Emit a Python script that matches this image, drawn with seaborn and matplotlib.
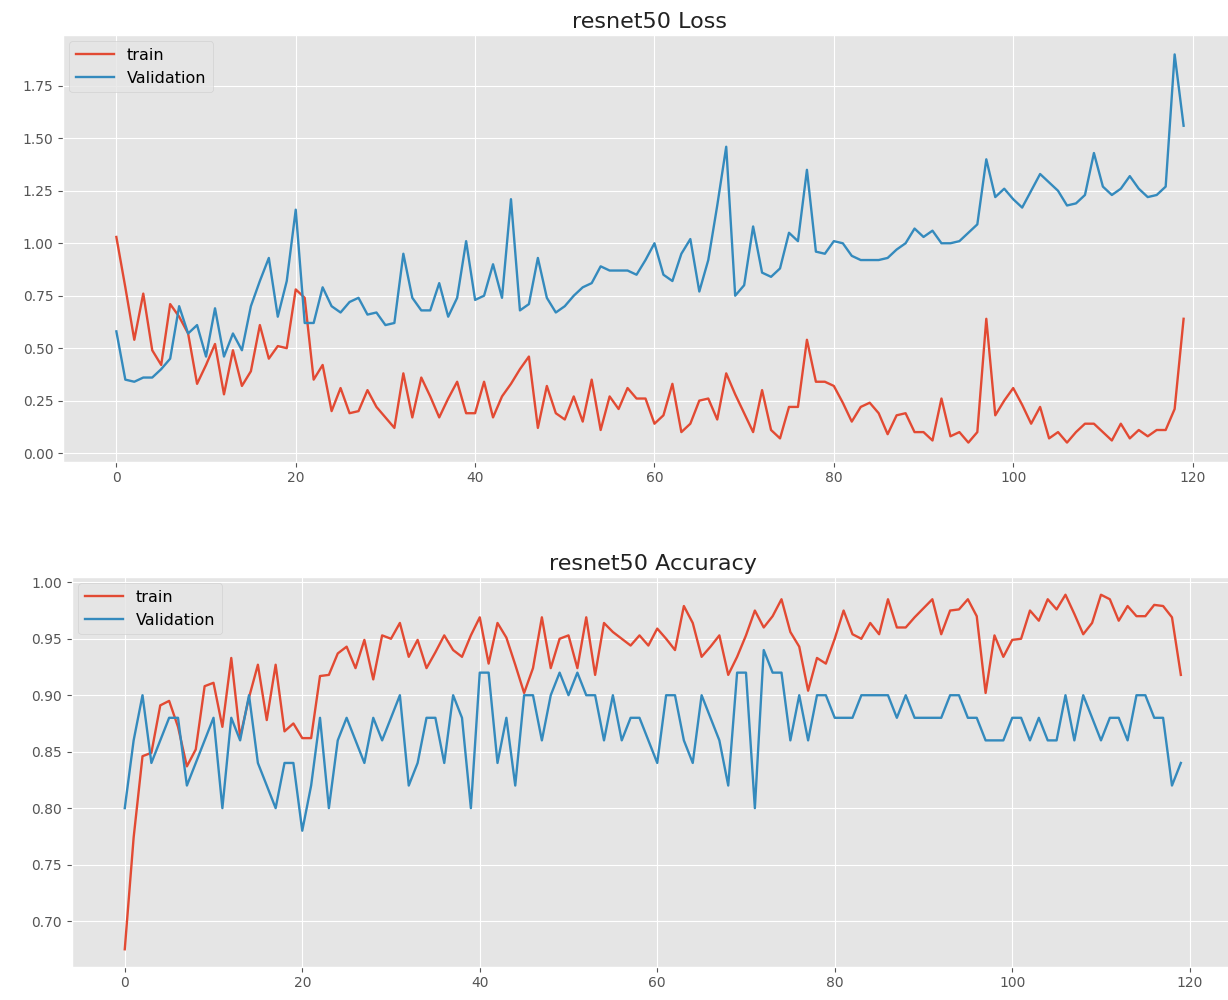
import numpy as np
import pandas as pd
import matplotlib
matplotlib.use("Agg")
import matplotlib.pyplot as plt
import seaborn as sns

epochs = list(range(120))

train_loss = [1.03, 0.79, 0.54, 0.76, 0.49, 0.42, 0.71, 0.65, 0.57, 0.33,
              0.42, 0.52, 0.28, 0.49, 0.32, 0.39, 0.61, 0.45, 0.51, 0.50,
              0.78, 0.74, 0.35, 0.42, 0.20, 0.31, 0.19, 0.20, 0.30, 0.22,
              0.17, 0.12, 0.38, 0.17, 0.36, 0.27, 0.17, 0.26, 0.34, 0.19,
              0.19, 0.34, 0.17, 0.27, 0.33, 0.40, 0.46, 0.12, 0.32, 0.19,
              0.16, 0.27, 0.15, 0.35, 0.11, 0.27, 0.21, 0.31, 0.26, 0.26,
              0.14, 0.18, 0.33, 0.10, 0.14, 0.25, 0.26, 0.16, 0.38, 0.28,
              0.19, 0.10, 0.30, 0.11, 0.07, 0.22, 0.22, 0.54, 0.34, 0.34,
              0.32, 0.24, 0.15, 0.22, 0.24, 0.19, 0.09, 0.18, 0.19, 0.10,
              0.10, 0.06, 0.26, 0.08, 0.10, 0.05, 0.10, 0.64, 0.18, 0.25,
              0.31, 0.23, 0.14, 0.22, 0.07, 0.10, 0.05, 0.10, 0.14, 0.14,
              0.10, 0.06, 0.14, 0.07, 0.11, 0.08, 0.11, 0.11, 0.21, 0.64]

val_loss = [0.58, 0.35, 0.34, 0.36, 0.36, 0.40, 0.45, 0.70, 0.57, 0.61,
            0.46, 0.69, 0.46, 0.57, 0.49, 0.70, 0.82, 0.93, 0.65, 0.82,
            1.16, 0.62, 0.62, 0.79, 0.70, 0.67, 0.72, 0.74, 0.66, 0.67,
            0.61, 0.62, 0.95, 0.74, 0.68, 0.68, 0.81, 0.65, 0.74, 1.01,
            0.73, 0.75, 0.90, 0.74, 1.21, 0.68, 0.71, 0.93, 0.74, 0.67,
            0.70, 0.75, 0.79, 0.81, 0.89, 0.87, 0.87, 0.87, 0.85, 0.92,
            1.00, 0.85, 0.82, 0.95, 1.02, 0.77, 0.92, 1.18, 1.46, 0.75,
            0.80, 1.08, 0.86, 0.84, 0.88, 1.05, 1.01, 1.35, 0.96, 0.95,
            1.01, 1.00, 0.94, 0.92, 0.92, 0.92, 0.93, 0.97, 1.00, 1.07,
            1.03, 1.06, 1.00, 1.00, 1.01, 1.05, 1.09, 1.40, 1.22, 1.26,
            1.21, 1.17, 1.25, 1.33, 1.29, 1.25, 1.18, 1.19, 1.23, 1.43,
            1.27, 1.23, 1.26, 1.32, 1.26, 1.22, 1.23, 1.27, 1.90, 1.56]

train_acc = [0.675, 0.774, 0.846, 0.849, 0.891, 0.895, 0.872, 0.837, 0.852, 0.908,
             0.911, 0.872, 0.933, 0.863, 0.898, 0.927, 0.878, 0.927, 0.868, 0.875,
             0.862, 0.862, 0.917, 0.918, 0.937, 0.943, 0.924, 0.949, 0.914, 0.953,
             0.950, 0.964, 0.934, 0.949, 0.924, 0.938, 0.953, 0.940, 0.934, 0.953,
             0.969, 0.928, 0.964, 0.951, 0.927, 0.902, 0.924, 0.969, 0.924, 0.950,
             0.953, 0.924, 0.969, 0.918, 0.964, 0.956, 0.950, 0.944, 0.953, 0.944,
             0.959, 0.950, 0.940, 0.979, 0.964, 0.934, 0.943, 0.953, 0.918, 0.934,
             0.953, 0.975, 0.960, 0.970, 0.985, 0.956, 0.943, 0.904, 0.933, 0.928,
             0.950, 0.975, 0.954, 0.950, 0.964, 0.954, 0.985, 0.960, 0.960, 0.969,
             0.977, 0.985, 0.954, 0.975, 0.976, 0.985, 0.970, 0.902, 0.953, 0.934,
             0.949, 0.950, 0.975, 0.966, 0.985, 0.976, 0.989, 0.972, 0.954, 0.964,
             0.989, 0.985, 0.966, 0.979, 0.970, 0.970, 0.980, 0.979, 0.969, 0.918]

val_acc = [0.80, 0.86, 0.90, 0.84, 0.86, 0.88, 0.88, 0.82, 0.84, 0.86,
           0.88, 0.80, 0.88, 0.86, 0.90, 0.84, 0.82, 0.80, 0.84, 0.84,
           0.78, 0.82, 0.88, 0.80, 0.86, 0.88, 0.86, 0.84, 0.88, 0.86,
           0.88, 0.90, 0.82, 0.84, 0.88, 0.88, 0.84, 0.90, 0.88, 0.80,
           0.92, 0.92, 0.84, 0.88, 0.82, 0.90, 0.90, 0.86, 0.90, 0.92,
           0.90, 0.92, 0.90, 0.90, 0.86, 0.90, 0.86, 0.88, 0.88, 0.86,
           0.84, 0.90, 0.90, 0.86, 0.84, 0.90, 0.88, 0.86, 0.82, 0.92,
           0.92, 0.80, 0.94, 0.92, 0.92, 0.86, 0.90, 0.86, 0.90, 0.90,
           0.88, 0.88, 0.88, 0.90, 0.90, 0.90, 0.90, 0.88, 0.90, 0.88,
           0.88, 0.88, 0.88, 0.90, 0.90, 0.88, 0.88, 0.86, 0.86, 0.86,
           0.88, 0.88, 0.86, 0.88, 0.86, 0.86, 0.90, 0.86, 0.90, 0.88,
           0.86, 0.88, 0.88, 0.86, 0.90, 0.90, 0.88, 0.88, 0.82, 0.84]

series_labels = ["train", "Validation"]
titles = ["resnet50 Loss", "resnet50 Accuracy"]

plt.style.use("ggplot")
plt.rcParams["font.family"] = ["DejaVu Sans"]
plt.rcParams["font.size"] = 11
plt.rcParams["xtick.labelsize"] = 10
plt.rcParams["ytick.labelsize"] = 10
plt.rcParams["xtick.major.pad"] = 3
plt.rcParams["legend.fontsize"] = 11.5
plt.rcParams["axes.titlesize"] = 16

colors = ["#E24A33", "#348ABD"]

fig = plt.figure(figsize=(12.28, 10), dpi=100)
ax1 = fig.add_axes([0.0513, 0.538, 0.956, 0.427])
ax2 = fig.add_axes([0.0586, 0.033, 0.946, 0.390])

for ax, (tr, va), title in [(ax1, (train_loss, val_loss), titles[0]),
                            (ax2, (train_acc, val_acc), titles[1])]:
    df = pd.DataFrame({"epoch": epochs, "train": tr, "val": va})
    sns.lineplot(data=df, x="epoch", y="train", ax=ax, color=colors[0],
                 label=series_labels[0], linewidth=1.7)
    sns.lineplot(data=df, x="epoch", y="val", ax=ax, color=colors[1],
                 label=series_labels[1], linewidth=1.7)
    ax.set_title(title, color="#222222", pad=5)
    ax.set_xlabel("")
    ax.set_ylabel("")
    ax.set_xticks([0, 20, 40, 60, 80, 100, 120])
    ax.legend(loc="upper left", handlelength=2.4, borderaxespad=0.4)
    ax.margins(x=0.05, y=0.05)

fig.savefig("out.png", dpi=100)
